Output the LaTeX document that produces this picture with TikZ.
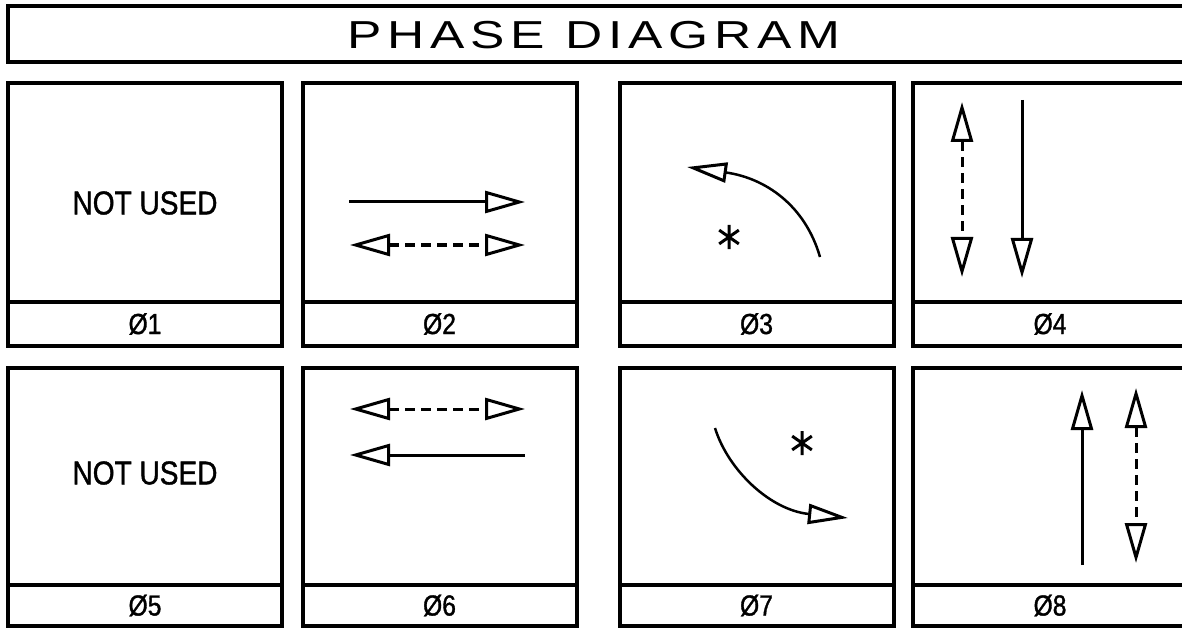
\documentclass[tikz,border=0pt]{standalone}
\usepackage{fontspec}
\setmainfont{Liberation Sans}
\newfontfamily\cadfont[FakeStretch=0.85,FakeBold=1.2]{Liberation Sans}
\newfontfamily\headfont[FakeStretch=1.32,LetterSpace=15]{Liberation Sans}
\usetikzlibrary{arrows.meta,calc,positioning}
\tikzset{
  cell/.style     = {draw, line width=4pt, inner sep=0pt, outer sep=0pt},
  titlebox/.style = {cell, minimum width=1182pt, minimum height=56pt},
  panel/.style    = {cell, minimum width=274pt, minimum height=219pt},
  panellow/.style = {cell, minimum width=274pt, minimum height=217pt},
  phlab/.style    = {cell, minimum width=274pt, minimum height=44pt,
                     font=\cadfont\fontsize{29}{29}\selectfont},
  phlablow/.style = {phlab, minimum height=41pt},
  unused/.style   = {font=\cadfont\fontsize{33}{33}\selectfont},
  flow/.style     = {line width=3pt, -{Triangle[open, length=40pt, width=22pt, line width=3pt]}},
  ped/.style      = {line width=3pt, dash pattern=on 10pt off 6pt,
                     {Triangle[open, length=40pt, width=22pt, line width=3pt]}-{Triangle[open, length=40pt, width=22pt, line width=3pt]}},
  turn/.style     = {line width=2.5pt, -{Triangle[open, length=40pt, width=20pt, line width=3pt]}},
  aster/.pic      = {\draw[line width=3pt] (90:12) -- (270:12) (35:12) -- (215:12) (145:12) -- (325:12);},
}

\begin{document}
\begin{tikzpicture}[x=1pt,y=-1pt]
\useasboundingbox (0,0) rectangle (1182,628);
% title
\node[titlebox] (title) at (599,34) {};
\node[font=\headfont\fontsize{39}{39}\selectfont] (head) at (594,35) {PHASE DIAGRAM};

% phases 1-4
\node[panel] (p1) at (145,192.5) {};
\node[phlab, below=0pt of p1] (l1) {Ø1};
\node[panel] (p2) at (439.5,192.5) {};
\node[phlab, below=0pt of p2] (l2) {Ø2};
\node[panel] (p3) at (756.5,192.5) {};
\node[phlab, below=0pt of p3] (l3) {Ø3};
\node[panel] (p4) at (1050,192.5) {};
\node[phlab, below=0pt of p4] (l4) {Ø4};

% phases 5-8
\node[panellow] (p5) at (145,476.5) {};
\node[phlablow, below=0pt of p5] (l5) {Ø5};
\node[panellow] (p6) at (439.5,476.5) {};
\node[phlablow, below=0pt of p6] (l6) {Ø6};
\node[panellow] (p7) at (756.5,476.5) {};
\node[phlablow, below=0pt of p7] (l7) {Ø7};
\node[panellow] (p8) at (1050,476.5) {};
\node[phlablow, below=0pt of p8] (l8) {Ø8};

\node[unused] (n1) at (145,203) {NOT USED};
\node[unused] (n5) at (145,473) {NOT USED};

% movements
\coordinate (m2a) at (349,202);  \coordinate (m2b) at (525,202);
\coordinate (m2c) at (350,245);  \coordinate (m2d) at (525,245);
\draw[flow] (m2a) -- (m2b);
\draw[ped] (m2c) -- (m2d);

\coordinate (m3a) at (820,257);  \coordinate (m3b) at (687,167);
\draw[turn] (m3a) .. controls (805,205) and (765,178) .. (m3b);
\pic (s3) at (729,237) {aster};

\coordinate (m4a) at (962,102);  \coordinate (m4b) at (962,277);
\coordinate (m4c) at (1022,100); \coordinate (m4d) at (1022,278);
\draw[ped] (m4a) -- (m4b);
\draw[flow] (m4c) -- (m4d);

\coordinate (m6a) at (350,409);  \coordinate (m6b) at (525,409);
\coordinate (m6c) at (525,455);  \coordinate (m6d) at (350,455);
\draw[ped] (m6a) -- (m6b);
\draw[flow] (m6c) -- (m6d);

\coordinate (m7a) at (715,428);  \coordinate (m7b) at (848,518);
\draw[turn] (m7a) .. controls (728,470) and (770,510) .. (m7b);
\pic (s7) at (802,443) {aster};

\coordinate (m8a) at (1082,565); \coordinate (m8b) at (1082,390);
\coordinate (m8c) at (1136,388); \coordinate (m8d) at (1136,563);
\draw[flow] (m8a) -- (m8b);
\draw[ped] (m8c) -- (m8d);
\end{tikzpicture}
\end{document}
